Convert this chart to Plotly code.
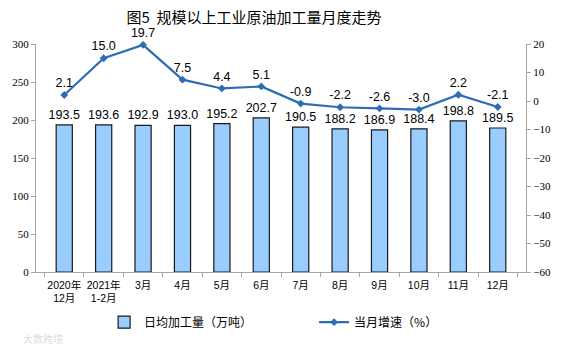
import plotly.graph_objects as go

categories = ["2020年<br>12月", "2021年<br>1-2月", "3月", "4月", "5月", "6月",
              "7月", "8月", "9月", "10月", "11月", "12月"]
daily_output = [193.5, 193.6, 192.9, 193.0, 195.2, 202.7, 190.5, 188.2, 186.9, 188.4, 198.8, 189.5]
growth = [2.1, 15.0, 19.7, 7.5, 4.4, 5.1, -0.9, -2.2, -2.6, -3.0, 2.2, -2.1]

fig = go.Figure()
fig.add_trace(go.Bar(
    x=categories, y=daily_output, name="日均加工量（万吨）",
    marker=dict(color="#99CCFF", line=dict(color="#1A1A1A", width=1.2)),
    width=0.41,
    text=[f"{v:.1f}" for v in daily_output], textposition="outside",
    constraintext="none",
    textfont=dict(family="Liberation Sans, Arial", size=12.5, color="#000000"),
    cliponaxis=False,
))
fig.add_trace(go.Scatter(
    x=categories, y=growth, name="当月增速（%）", yaxis="y2",
    mode="lines+markers+text",
    line=dict(color="#2E6DB4", width=2.2),
    marker=dict(symbol="diamond", size=6, color="#2E6DB4"),
    text=[f"{v:.1f}" for v in growth], textposition="top center",
    textfont=dict(family="Liberation Sans, Arial", size=12.5, color="#000000"),
    cliponaxis=False,
))

axis_font = dict(family="Liberation Serif, Times New Roman", size=11, color="#000000")
fig.update_layout(
    width=563, height=352,
    margin=dict(l=35, r=31, t=44, b=80),
    paper_bgcolor="white", plot_bgcolor="white",
    title=dict(text="图5  规模以上工业原油加工量月度走势", x=0.451, xanchor="center",
               y=0.95, yanchor="middle",
               font=dict(family="Noto Sans CJK SC", size=15, color="#000000")),
    xaxis=dict(showline=True, linecolor="#A6A6A6", linewidth=1,
               ticks="outside", tickson="boundaries", ticklen=4, tickcolor="#A6A6A6",
               tickangle=0, ticklabelstandoff=3,
               tickfont=dict(family="Liberation Sans, Noto Sans CJK SC", size=10.5, color="#000000"),
               showgrid=False),
    yaxis=dict(range=[0, 300], dtick=50, showline=True, linecolor="#A6A6A6", linewidth=1,
               ticks="outside", ticklen=4, tickcolor="#A6A6A6",
               tickfont=axis_font, showgrid=False, zeroline=False),
    yaxis2=dict(range=[-60, 20], dtick=10, overlaying="y", side="right",
                showline=True, linecolor="#A6A6A6", linewidth=1,
                ticks="outside", ticklen=4, tickcolor="#A6A6A6",
                tickfont=axis_font, showgrid=False, zeroline=False),
    legend=dict(orientation="h", x=0.139, xanchor="left", y=-0.22, yanchor="middle",
                entrywidth=165, entrywidthmode="pixels",
                font=dict(family="Noto Sans CJK SC", size=12, color="#000000"),
                bgcolor="rgba(0,0,0,0)"),
    showlegend=True,
)
fig.add_annotation(text="大数跨境", xref="paper", yref="paper", x=-0.03, y=-0.29,
                   xanchor="left", yanchor="middle", showarrow=False,
                   font=dict(family="Noto Sans CJK SC", size=10, color="#DDDDDD"))

fig.write_html("out.html")
